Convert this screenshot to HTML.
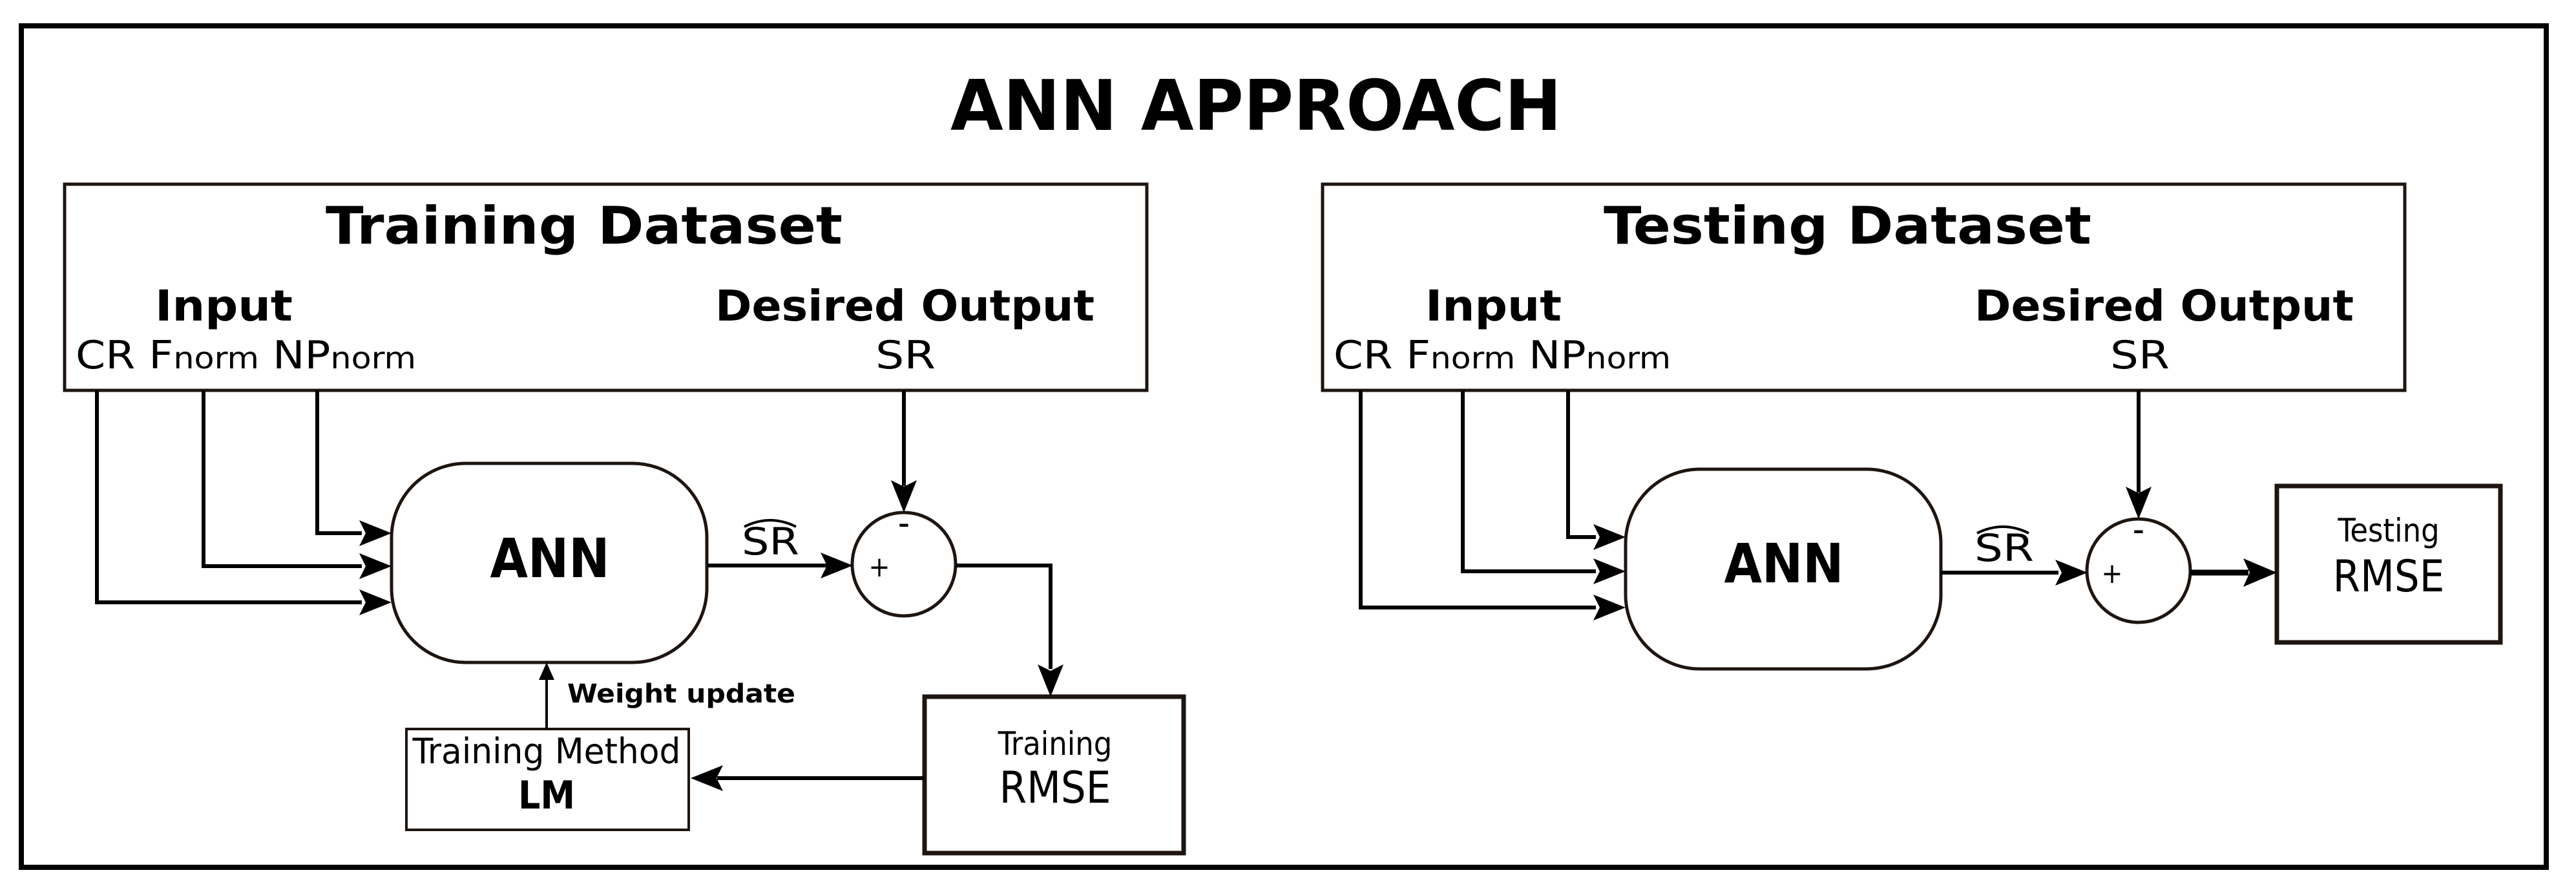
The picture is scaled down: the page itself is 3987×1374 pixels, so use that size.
<!DOCTYPE html>
<html><head><meta charset="utf-8"><style>
html,body{margin:0;padding:0;background:#fff}
svg{display:block}
text{font-family:"DejaVu Sans Condensed","DejaVu Sans","Liberation Sans",sans-serif;fill:#000}
.b{font-weight:bold}
</style></head><body>
<svg width="3987" height="1374" viewBox="0 0 3987 1374" xmlns="http://www.w3.org/2000/svg">
<rect x="0" y="0" width="3987" height="1374" fill="#fff"/>
<rect x="33" y="40" width="3908" height="1302" fill="none" stroke="#000" stroke-width="8"/>
<text x="1471" y="201" class="b" font-size="108" textLength="946" lengthAdjust="spacingAndGlyphs">ANN APPROACH</text>

<g fill="none" stroke="#1e1510" stroke-width="5">
<rect x="100" y="285" width="1675" height="319"/>
<rect x="2047" y="285" width="1675" height="319"/>
<rect x="606" y="717" width="488" height="308" rx="115"/>
<rect x="2516" y="726" width="488" height="309" rx="115"/>
<circle cx="1399" cy="873" r="80"/>
<circle cx="3310" cy="883" r="80"/>
<rect x="1431" y="1078" width="401" height="242" stroke-width="7"/>
<rect x="3524" y="752" width="346" height="242" stroke-width="7"/>
<rect x="629" y="1128" width="437" height="156" stroke-width="4"/>
</g>

<g fill="none" stroke="#000" stroke-width="6">
<path d="M150 604 V932 H560"/>
<path d="M315 604 V876 H560"/>
<path d="M491 604 V825 H560"/>
<path d="M1094 875 H1280"/>
<path d="M1399 604 V752"/>
<path d="M1479 875 H1626 V1035"/>
<path d="M1431 1204 H1110"/>
<path d="M846 1128 V1045" stroke-width="4"/>
<path d="M2106 604 V940 H2470"/>
<path d="M2264 604 V884 H2470"/>
<path d="M2427 604 V831 H2470"/>
<path d="M3004 886 H3186"/>
<path d="M3310 604 V762"/>
<path d="M3390 886 H3480" stroke-width="9"/>
</g>
<g fill="#000">
<polygon points="556,912 606,932 556,952 566,932"/>
<polygon points="556,856 606,876 556,896 566,876"/>
<polygon points="556,805 606,825 556,845 566,825"/>
<polygon points="1270,855 1320,875 1270,895 1280,875"/>
<polygon points="1379,743 1399,793 1419,743 1399,753"/>
<polygon points="1606,1028 1626,1078 1646,1028 1626,1038"/>
<polygon points="1119,1184 1069,1204 1119,1224 1109,1204"/>
<polygon points="834,1052 846,1025 858,1052"/>
<polygon points="2466,920 2516,940 2466,960 2476,940"/>
<polygon points="2466,864 2516,884 2466,904 2476,884"/>
<polygon points="2466,811 2516,831 2466,851 2476,831"/>
<polygon points="3181,866 3231,886 3181,906 3191,886"/>
<polygon points="3290,753 3310,803 3330,753 3310,763"/>
<polygon points="3472,864 3524,886 3472,908 3482,886"/>
</g>

<text x="504" y="377" class="b" font-size="80" textLength="800" lengthAdjust="spacingAndGlyphs">Training Dataset</text>
<text x="240" y="496" class="b" font-size="66" textLength="213" lengthAdjust="spacingAndGlyphs">Input</text>
<text x="1107" y="496" class="b" font-size="66" textLength="587" lengthAdjust="spacingAndGlyphs">Desired Output</text>
<text x="117" y="570" font-size="60" textLength="527" lengthAdjust="spacingAndGlyphs">CR F<tspan font-size="46">norm</tspan> NP<tspan font-size="46">norm</tspan></text>
<text x="1355" y="570" font-size="60" textLength="93" lengthAdjust="spacingAndGlyphs">SR</text>
<text x="851" y="893" class="b" font-size="84" text-anchor="middle">ANN</text>
<text x="1148" y="858" font-size="58" textLength="89" lengthAdjust="spacingAndGlyphs">SR</text>
<path d="M1152 815 Q1192 795 1232 815" fill="none" stroke="#000" stroke-width="4"/>
<text x="1399" y="828" font-size="56" text-anchor="middle">-</text>
<text x="1361" y="892" font-size="44" text-anchor="middle">+</text>
<text x="1633" y="1168" font-size="50" text-anchor="middle">Training</text>
<text x="1633" y="1242" font-size="68" text-anchor="middle">RMSE</text>
<text x="846" y="1181" font-size="54" text-anchor="middle" textLength="415" lengthAdjust="spacingAndGlyphs">Training Method</text>
<text x="846" y="1251" class="b" font-size="60" text-anchor="middle">LM</text>
<text x="878" y="1087" class="b" font-size="40" textLength="353" lengthAdjust="spacingAndGlyphs">Weight update</text>

<text x="2482" y="377" class="b" font-size="80" textLength="755" lengthAdjust="spacingAndGlyphs">Testing Dataset</text>
<text x="2206" y="496" class="b" font-size="66" textLength="211" lengthAdjust="spacingAndGlyphs">Input</text>
<text x="3056" y="496" class="b" font-size="66" textLength="587" lengthAdjust="spacingAndGlyphs">Desired Output</text>
<text x="2064" y="570" font-size="60" textLength="522" lengthAdjust="spacingAndGlyphs">CR F<tspan font-size="46">norm</tspan> NP<tspan font-size="46">norm</tspan></text>
<text x="3266" y="570" font-size="60" textLength="92" lengthAdjust="spacingAndGlyphs">SR</text>
<text x="2761" y="901" class="b" font-size="84" text-anchor="middle">ANN</text>
<text x="3056" y="868" font-size="58" textLength="92" lengthAdjust="spacingAndGlyphs">SR</text>
<path d="M3060 825 Q3100 805 3140 825" fill="none" stroke="#000" stroke-width="4"/>
<text x="3310" y="838" font-size="56" text-anchor="middle">-</text>
<text x="3269" y="902" font-size="44" text-anchor="middle">+</text>
<text x="3697" y="838" font-size="50" text-anchor="middle">Testing</text>
<text x="3697" y="915" font-size="68" text-anchor="middle">RMSE</text>
</svg>
</body></html>
